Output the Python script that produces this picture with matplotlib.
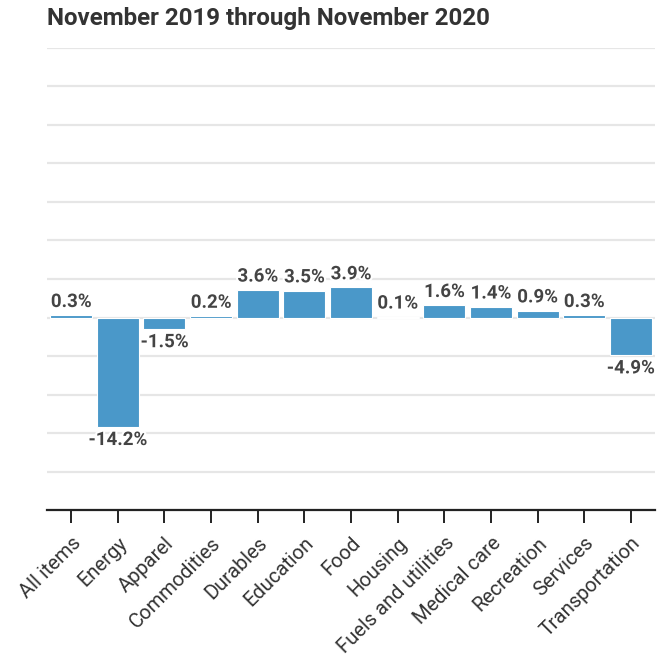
import matplotlib.pyplot as plt
import matplotlib.patheffects as pe

plt.rcParams['font.family'] = ['Roboto', 'DejaVu Sans']

# data
categories = ['All items', 'Energy', 'Apparel', 'Commodities', 'Durables',
              'Education', 'Food', 'Housing', 'Fuels and utilities',
              'Medical care', 'Recreation', 'Services', 'Transportation']
changes = [0.3, -14.2, -1.5, 0.2, 3.6, 3.5, 3.9, 0.1, 1.6, 1.4, 0.9, 0.3, -4.9]
title = 'November 2019 through November 2020'

fig = plt.figure(figsize=(6.61, 6.57), dpi=100)
ax = fig.add_axes([0.071, 0.2237, 0.92, 0.7033])

x = range(len(categories))
bars = ax.bar(x, changes, width=0.9, color='#4a98c9', edgecolor='white',
              linewidth=0.8, zorder=3)

ax.set_xlim(-0.52, 12.52)
ax.set_ylim(-25, 35)
ax.set_yticks(range(-25, 36, 5))
ax.yaxis.grid(True, color='#e6e6e6', linewidth=1.6, zorder=0)
ax.tick_params(axis='y', left=False, labelleft=False)
for s in ['top', 'right', 'left']:
    ax.spines[s].set_visible(False)
ax.spines['bottom'].set_color('#222222')
ax.spines['bottom'].set_linewidth(1.6)

ax.set_xticks(list(x))
ax.set_xticklabels(categories, rotation=45, ha='right', rotation_mode='anchor',
                   fontsize=14.5, color='#333333')
ax.tick_params(axis='x', length=9, width=1.4, color='#222222', pad=8)

halo = [pe.withStroke(linewidth=3, foreground='white')]
for b, v in zip(bars, changes):
    xc = b.get_x() + b.get_width() / 2
    if v >= 0:
        ax.annotate(f'{v:.1f}%', (xc, v), xytext=(0, 3), textcoords='offset points',
                    ha='center', va='bottom', fontsize=13.5, fontweight='bold',
                    color='#444444', path_effects=halo, zorder=4)
    else:
        ax.annotate(f'{v:.1f}%', (xc, v), xytext=(0, -3), textcoords='offset points',
                    ha='center', va='top', fontsize=13.5, fontweight='bold',
                    color='#444444', path_effects=halo, zorder=4)

fig.text(0.071, 0.99, title, ha='left', va='top', fontsize=17.4,
         fontweight='bold', color='#333333')

fig.savefig('out.png', dpi=100)
